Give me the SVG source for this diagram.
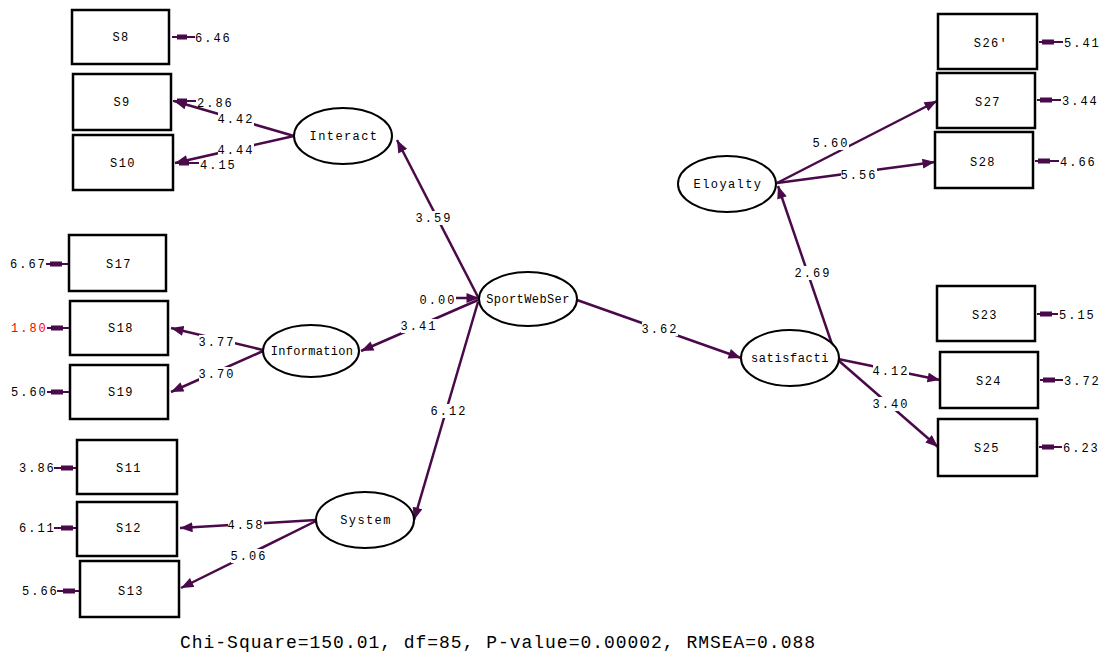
<svg xmlns="http://www.w3.org/2000/svg" width="1102" height="654" viewBox="0 0 1102 654">
<defs>
<marker id="ah" viewBox="0 0 10 8" refX="10" refY="4" markerWidth="13" markerHeight="10" markerUnits="userSpaceOnUse" orient="auto"><path d="M0,0 L10,4 L0,8 z" fill="#4a0a4a"/></marker>
<style>
.c{stroke:#4a0a4a;stroke-width:2.5;fill:none}
.e{stroke:#4a0a4a;stroke-width:2;fill:none}
.blk{fill:#4a0a4a}
.bg{fill:#fff}
.box{fill:#fff;stroke:#000;stroke-width:2.5}
.ell{fill:#fff;stroke:#000;stroke-width:2}
.t{font-family:"Liberation Mono","DejaVu Sans Mono",monospace;font-size:12px;fill:#000;letter-spacing:1.4px}
.n{font-family:"Liberation Mono","DejaVu Sans Mono",monospace;font-size:12px;fill:#000;letter-spacing:2px}
.m{text-anchor:middle}
.foot{font-family:"Liberation Mono","DejaVu Sans Mono",monospace;font-size:18px;fill:#000}
</style>
</defs>
<rect width="1102" height="654" fill="#fff"/>

<g id="connectors">
<!-- Interact loadings -->
<line class="c" x1="294" y1="136" x2="174" y2="101" marker-end="url(#ah)"/>
<line class="c" x1="294" y1="136" x2="175" y2="163" marker-end="url(#ah)"/>
<!-- Information loadings -->
<line class="c" x1="263" y1="350" x2="171" y2="328" marker-end="url(#ah)"/>
<line class="c" x1="263" y1="351" x2="171" y2="392" marker-end="url(#ah)"/>
<!-- System loadings -->
<line class="c" x1="316" y1="520" x2="180" y2="528" marker-end="url(#ah)"/>
<line class="c" x1="316" y1="521" x2="181" y2="588" marker-end="url(#ah)"/>
<!-- SportWebSer paths -->
<line class="c" x1="478" y1="297" x2="397" y2="140" marker-end="url(#ah)"/>
<line class="c" x1="478" y1="300" x2="361" y2="351" marker-end="url(#ah)"/>
<line class="c" x1="478" y1="302" x2="414" y2="520" marker-end="url(#ah)"/>
<line class="c" x1="577" y1="300" x2="741" y2="358" marker-end="url(#ah)"/>
<line class="c" x1="455" y1="298" x2="479" y2="298" marker-end="url(#ah)"/>
<!-- Satisfaction / Eloyalty paths -->
<line class="c" x1="836" y1="356" x2="778" y2="186" marker-end="url(#ah)"/>
<line class="c" x1="777" y1="183" x2="937" y2="101" marker-end="url(#ah)"/>
<line class="c" x1="777" y1="183" x2="935" y2="162" marker-end="url(#ah)"/>
<line class="c" x1="838" y1="359" x2="940" y2="380" marker-end="url(#ah)"/>
<line class="c" x1="838" y1="360" x2="938" y2="447" marker-end="url(#ah)"/>

<!-- error arrows left column (on right side of boxes) -->
<line class="e" x1="172" y1="37" x2="195" y2="37"/><rect class="blk" x="177" y="34.5" width="10" height="5"/>
<line class="e" x1="173" y1="101" x2="196" y2="101"/><rect class="blk" x="177" y="98.5" width="10" height="5"/>
<line class="e" x1="175" y1="163" x2="199" y2="163"/><rect class="blk" x="179" y="160.5" width="10" height="5"/>
<!-- error arrows left side -->
<line class="e" x1="46" y1="264" x2="69" y2="264"/><rect class="blk" x="50" y="261.5" width="12" height="5"/>
<line class="e" x1="47" y1="328" x2="70" y2="328"/><rect class="blk" x="51" y="325.5" width="12" height="5"/>
<line class="e" x1="47" y1="392" x2="70" y2="392"/><rect class="blk" x="51" y="389.5" width="12" height="5"/>
<line class="e" x1="54" y1="468" x2="77" y2="468"/><rect class="blk" x="61" y="465.5" width="12" height="5"/>
<line class="e" x1="54" y1="528" x2="77" y2="528"/><rect class="blk" x="61" y="525.5" width="12" height="5"/>
<line class="e" x1="57" y1="591" x2="80" y2="591"/><rect class="blk" x="63" y="588.5" width="12" height="5"/>
<!-- error arrows right column -->
<line class="e" x1="1039" y1="42" x2="1063" y2="42"/><rect class="blk" x="1042" y="39.5" width="12" height="5"/>
<line class="e" x1="1037" y1="100" x2="1061" y2="100"/><rect class="blk" x="1040" y="97.5" width="12" height="5"/>
<line class="e" x1="1035" y1="161" x2="1059" y2="161"/><rect class="blk" x="1038" y="158.5" width="12" height="5"/>
<line class="e" x1="1037" y1="314" x2="1058" y2="314"/><rect class="blk" x="1040" y="311.5" width="12" height="5"/>
<line class="e" x1="1040" y1="380" x2="1063" y2="380"/><rect class="blk" x="1043" y="377.5" width="12" height="5"/>
<line class="e" x1="1039" y1="447" x2="1062" y2="447"/><rect class="blk" x="1042" y="444.5" width="12" height="5"/>

<!-- path label backgrounds -->
<rect class="bg" x="218" y="112" width="36" height="14"/>
<rect class="bg" x="218" y="143" width="36" height="14"/>
<rect class="bg" x="199" y="335" width="36" height="14"/>
<rect class="bg" x="199" y="367" width="36" height="14"/>
<rect class="bg" x="228" y="518" width="36" height="14"/>
<rect class="bg" x="231" y="549" width="36" height="14"/>
<rect class="bg" x="416" y="211" width="36" height="14"/>
<rect class="bg" x="420" y="293" width="36" height="14"/>
<rect class="bg" x="401" y="319" width="36" height="14"/>
<rect class="bg" x="431" y="404" width="36" height="14"/>
<rect class="bg" x="642" y="322" width="36" height="14"/>
<rect class="bg" x="813" y="136" width="36" height="14"/>
<rect class="bg" x="841" y="168" width="36" height="14"/>
<rect class="bg" x="795" y="266" width="36" height="14"/>
<rect class="bg" x="873" y="364" width="36" height="14"/>
<rect class="bg" x="873" y="397" width="36" height="14"/>

<!-- path labels -->
<text class="n m" x="236" y="123">4.42</text>
<text class="n m" x="236" y="154">4.44</text>
<text class="n m" x="217" y="346">3.77</text>
<text class="n m" x="217" y="378">3.70</text>
<text class="n m" x="246" y="529">4.58</text>
<text class="n m" x="249" y="560">5.06</text>
<text class="n m" x="434" y="222">3.59</text>
<text class="n m" x="438" y="304">0.00</text>
<text class="n m" x="419" y="330">3.41</text>
<text class="n m" x="449" y="415">6.12</text>
<text class="n m" x="660" y="333">3.62</text>
<text class="n m" x="831" y="147">5.60</text>
<text class="n m" x="859" y="179">5.56</text>
<text class="n m" x="813" y="277">2.69</text>
<text class="n m" x="891" y="375">4.12</text>
<text class="n m" x="891" y="408">3.40</text>

<!-- error variance labels -->
<text class="n" x="195" y="42">6.46</text>
<text class="n" x="197" y="107">2.86</text>
<text class="n" x="200" y="169">4.15</text>
<text class="n" x="10" y="268">6.67</text>
<text class="n" x="11" y="332" style="fill:#ff0000">1.80</text>
<text class="n" x="11" y="396">5.60</text>
<text class="n" x="19" y="472">3.86</text>
<text class="n" x="19" y="532">6.11</text>
<text class="n" x="22" y="595">5.66</text>
<text class="n" x="1064" y="47">5.41</text>
<text class="n" x="1062" y="105">3.44</text>
<text class="n" x="1060" y="166">4.66</text>
<text class="n" x="1059" y="319">5.15</text>
<text class="n" x="1064" y="385">3.72</text>
<text class="n" x="1063" y="452">6.23</text>
</g>

<g id="S8"><rect class="box" x="72" y="10" width="97" height="54"/><text class="t m" x="121" y="41">S8</text></g>
<g id="S9"><rect class="box" x="73" y="74" width="98" height="56"/><text class="t m" x="122" y="106">S9</text></g>
<g id="S10"><rect class="box" x="73" y="135" width="100" height="55"/><text class="t m" x="123" y="167">S10</text></g>
<g id="S17"><rect class="box" x="69" y="235" width="97" height="56"/><text class="t m" x="119" y="268">S17</text></g>
<g id="S18"><rect class="box" x="70" y="301" width="98" height="54"/><text class="t m" x="121" y="332">S18</text></g>
<g id="S19"><rect class="box" x="70" y="365" width="98" height="54"/><text class="t m" x="121" y="396">S19</text></g>
<g id="S11"><rect class="box" x="77" y="440" width="100" height="54"/><text class="t m" x="129" y="472">S11</text></g>
<g id="S12"><rect class="box" x="77" y="502" width="100" height="54"/><text class="t m" x="129" y="532">S12</text></g>
<g id="S13"><rect class="box" x="80" y="561" width="99" height="56"/><text class="t m" x="131" y="595">S13</text></g>
<g id="S26"><rect class="box" x="938" y="14" width="99" height="55"/><text class="t m" x="991" y="47">S26'</text></g>
<g id="S27"><rect class="box" x="937" y="73" width="98" height="55"/><text class="t m" x="988" y="106">S27</text></g>
<g id="S28"><rect class="box" x="935" y="132" width="98" height="56"/><text class="t m" x="983" y="166">S28</text></g>
<g id="S23"><rect class="box" x="937" y="286" width="98" height="55"/><text class="t m" x="985" y="319">S23</text></g>
<g id="S24"><rect class="box" x="940" y="352" width="98" height="56"/><text class="t m" x="989" y="385">S24</text></g>
<g id="S25"><rect class="box" x="938" y="419" width="99" height="57"/><text class="t m" x="987" y="452">S25</text></g>

<g id="Interact"><ellipse class="ell" cx="343" cy="136" rx="49" ry="28"/><text class="t m" x="344" y="140">Interact</text></g>
<g id="Information"><ellipse class="ell" cx="311" cy="351" rx="48" ry="26"/><text class="t m" x="312" y="355" style="letter-spacing:0.3px">Information</text></g>
<g id="System"><ellipse class="ell" cx="365" cy="520" rx="49" ry="28"/><text class="t m" x="366" y="524">System</text></g>
<g id="SportWebSer"><ellipse class="ell" cx="528" cy="299" rx="49" ry="27"/><text class="t m" x="528" y="303" style="letter-spacing:0.4px">SportWebSer</text></g>
<g id="Eloyalty"><ellipse class="ell" cx="727" cy="184" rx="49" ry="28"/><text class="t m" x="728" y="188">Eloyalty</text></g>
<g id="Satisfaction"><ellipse class="ell" cx="790" cy="358" rx="49" ry="28"/><text class="t m" x="790" y="362" style="letter-spacing:0.6px">satisfacti</text></g>

<text class="foot" x="180" y="648" textLength="635">Chi-Square=150.01, df=85, P-value=0.00002, RMSEA=0.088</text>
</svg>
